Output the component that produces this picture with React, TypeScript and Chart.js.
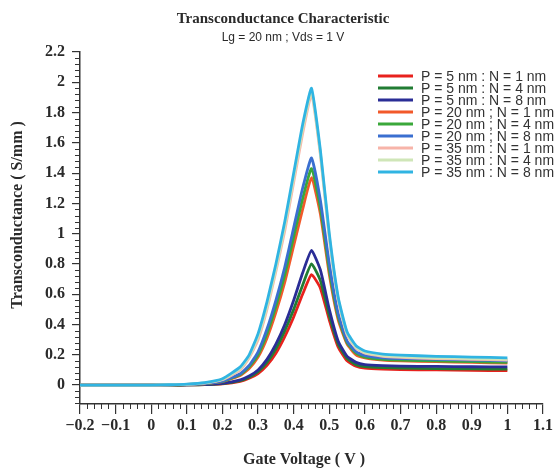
import React, { useEffect, useRef } from "react";
import { Chart, registerables } from "chart.js";

Chart.register(...registerables);

// Gate voltage sweep (V)
const GATE_VOLTAGE = [
  -0.2, -0.1, 0, 0.05, 0.1, 0.15, 0.2, 0.25, 0.275, 0.3, 0.325, 0.35, 0.375, 0.4,
  0.425, 0.45, 0.475, 0.5, 0.525, 0.55, 0.575, 0.6, 0.65, 0.7, 0.8, 0.9, 1.0,
];

// Transconductance (S/mm) for each P / N combination
const GM_P5_N1 = [0, 0, 0, 0, 0.001, 0.003, 0.008, 0.025, 0.045, 0.076, 0.13, 0.21, 0.32, 0.45, 0.6, 0.73, 0.64, 0.43, 0.25, 0.16, 0.125, 0.112, 0.105, 0.102, 0.1, 0.097, 0.095];
const GM_P5_N4 = [0, 0, 0, 0, 0.001, 0.003, 0.01, 0.03, 0.052, 0.088, 0.15, 0.24, 0.36, 0.5, 0.66, 0.8, 0.69, 0.46, 0.27, 0.175, 0.135, 0.122, 0.115, 0.112, 0.109, 0.107, 0.105];
const GM_P5_N8 = [0, 0, 0, 0, 0.001, 0.004, 0.012, 0.035, 0.06, 0.1, 0.17, 0.27, 0.4, 0.56, 0.74, 0.89, 0.76, 0.5, 0.29, 0.19, 0.15, 0.135, 0.128, 0.125, 0.123, 0.121, 0.12];
const GM_P20_N1 = [0, 0, 0, 0.001, 0.003, 0.008, 0.022, 0.064, 0.11, 0.185, 0.31, 0.48, 0.68, 0.92, 1.16, 1.37, 1.13, 0.73, 0.43, 0.27, 0.2, 0.18, 0.165, 0.16, 0.155, 0.15, 0.145];
const GM_P20_N4 = [0, 0, 0, 0.001, 0.003, 0.009, 0.024, 0.07, 0.12, 0.2, 0.34, 0.52, 0.73, 0.98, 1.23, 1.43, 1.17, 0.76, 0.45, 0.28, 0.21, 0.185, 0.17, 0.165, 0.16, 0.155, 0.15];
const GM_P20_N8 = [0, 0, 0, 0.001, 0.004, 0.01, 0.026, 0.075, 0.13, 0.22, 0.37, 0.56, 0.78, 1.04, 1.3, 1.5, 1.22, 0.8, 0.47, 0.29, 0.22, 0.195, 0.18, 0.175, 0.17, 0.165, 0.16];
const GM_P35_N1 = [0, 0, 0, 0.001, 0.005, 0.013, 0.035, 0.1, 0.18, 0.3, 0.5, 0.75, 1.02, 1.34, 1.66, 1.92, 1.52, 0.97, 0.56, 0.33, 0.245, 0.21, 0.19, 0.183, 0.175, 0.17, 0.165];
const GM_P35_N4 = [0, 0, 0, 0.002, 0.005, 0.014, 0.038, 0.11, 0.19, 0.32, 0.52, 0.77, 1.05, 1.37, 1.69, 1.94, 1.53, 0.98, 0.57, 0.34, 0.25, 0.215, 0.195, 0.188, 0.18, 0.175, 0.17];
const GM_P35_N8 = [0, 0, 0, 0.002, 0.006, 0.016, 0.042, 0.12, 0.2, 0.34, 0.55, 0.8, 1.08, 1.4, 1.72, 1.96, 1.55, 1.0, 0.58, 0.35, 0.26, 0.225, 0.205, 0.198, 0.19, 0.185, 0.18];

const SERIES_VALUES = [
  GM_P5_N1, GM_P5_N4, GM_P5_N8,
  GM_P20_N1, GM_P20_N4, GM_P20_N8,
  GM_P35_N1, GM_P35_N4, GM_P35_N8,
];

const SERIES_LABELS = [
  "P = 5 nm : N = 1 nm",
  "P = 5 nm : N = 4 nm",
  "P = 5 nm : N = 8 nm",
  "P = 20 nm ; N = 1 nm",
  "P = 20 nm ; N = 4 nm",
  "P = 20 nm ; N = 8 nm",
  "P = 35 nm : N = 1 nm",
  "P = 35 nm : N = 4 nm",
  "P = 35 nm : N = 8 nm",
];

const SERIES_COLORS = [
  "#e8211d",
  "#217c33",
  "#2a2d96",
  "#f2592a",
  "#3aa83a",
  "#3a6fd0",
  "#f7b4a9",
  "#cfe6b8",
  "#30b4e2",
];

const X_TICKS = [-0.2, -0.1, 0, 0.1, 0.2, 0.3, 0.4, 0.5, 0.6, 0.7, 0.8, 0.9, 1.0, 1.1];
const X_TICK_LABELS = ["\u22120.2", "\u22120.1", "0", "0.1", "0.2", "0.3", "0.4", "0.5", "0.6", "0.7", "0.8", "0.9", "1", "1.1"];
const Y_TICKS = [0, 0.2, 0.4, 0.6, 0.8, 1.0, 1.2, 1.4, 1.6, 1.8, 2.0, 2.2];
const Y_TICK_LABELS = ["0", "0.2", "0.4", "0.6", "0.8", "1", "1.2", "1.4", "1.6", "1.8", "2", "2.2"];

const TITLE = "Transconductance Characteristic";
const SUBTITLE = "Lg = 20 nm ; Vds = 1 V";
const X_TITLE = "Gate Voltage ( V )";
const Y_TITLE = "Transconductance ( S/mm )";

const SERIF = "'Liberation Serif', 'Times New Roman', serif";
const SANS = "'Liberation Sans', Arial, sans-serif";
const INK = "#2a2a2a";

const decorPlugin = {
  id: "decor",
  afterDraw(chart: any) {
    const ctx: CanvasRenderingContext2D = chart.ctx;
    const { left, bottom } = chart.chartArea;
    const xs = chart.scales.x;
    const ys = chart.scales.y;
    ctx.save();

    // minor ticks
    ctx.strokeStyle = "#333";
    ctx.lineWidth = 1;
    ctx.beginPath();
    for (let i = 0; i <= 65; i++) {
      if (i % 5 === 0) continue;
      const px = Math.round(xs.getPixelForValue(-0.2 + i * 0.02)) + 0.5;
      ctx.moveTo(px, bottom);
      ctx.lineTo(px, bottom + 5);
    }
    for (let i = -3; i <= 55; i++) {
      if (i % 5 === 0) continue;
      const py = Math.round(ys.getPixelForValue(i * 0.04)) + 0.5;
      if (py > bottom) continue;
      ctx.moveTo(left - 5, py);
      ctx.lineTo(left, py);
    }
    ctx.stroke();

    // titles
    ctx.fillStyle = INK;
    ctx.textAlign = "center";
    ctx.textBaseline = "middle";
    ctx.font = `bold 15px ${SERIF}`;
    ctx.fillText(TITLE, 283, 19);
    ctx.font = `12px ${SANS}`;
    ctx.fillText(SUBTITLE, 283, 38);
    ctx.font = `bold 16px ${SERIF}`;
    ctx.fillText(X_TITLE, 304, 460);
    ctx.save();
    ctx.translate(18, 215);
    ctx.rotate(-Math.PI / 2);
    ctx.fillText(Y_TITLE, 0, 0);
    ctx.restore();

    // legend
    ctx.textAlign = "left";
    ctx.font = `14px ${SANS}`;
    SERIES_LABELS.forEach((label, i) => {
      const yy = 76 + i * 12;
      ctx.strokeStyle = SERIES_COLORS[i];
      ctx.lineWidth = 3;
      ctx.beginPath();
      ctx.moveTo(378, yy);
      ctx.lineTo(413, yy);
      ctx.stroke();
      ctx.fillStyle = "#333";
      ctx.fillText(label, 421, yy + 1);
    });
    ctx.restore();
  },
};

export default function App() {
  const canvasRef = useRef<HTMLCanvasElement | null>(null);

  useEffect(() => {
    const canvas = canvasRef.current;
    if (!canvas) return;
    const datasets = SERIES_VALUES.map((vals, i) => ({
      label: SERIES_LABELS[i],
      data: GATE_VOLTAGE.map((v, k) => ({ x: v, y: vals[k] })),
      borderColor: SERIES_COLORS[i],
      backgroundColor: SERIES_COLORS[i],
      borderWidth: 2.8,
      pointRadius: 0,
      tension: 0.15,
      fill: false,
      order: SERIES_VALUES.length - 1 - i,
    }));

    const tickFont = { family: SERIF, weight: "bold" as const, size: 16 };

    const chart = new Chart(canvas, {
      type: "line",
      data: { datasets },
      plugins: [decorPlugin],
      options: {
        animation: false,
        responsive: false,
        devicePixelRatio: 1,
        layout: { padding: { top: 52, left: 0, right: 16, bottom: 0 } },
        plugins: { legend: { display: false }, tooltip: { enabled: false }, title: { display: false } },
        scales: {
          x: {
            type: "linear",
            min: -0.2,
            max: 1.1,
            afterFit: (s: any) => { s.height = 67; },
            afterBuildTicks: (s: any) => { s.ticks = X_TICKS.map((value) => ({ value })); },
            grid: { drawOnChartArea: false, drawTicks: true, tickLength: 10, color: "#333", lineWidth: 1.2 },
            border: { display: true, color: "#333", width: 1.5 },
            ticks: {
              autoSkip: false,
              maxRotation: 0,
              padding: 2,
              color: INK,
              font: tickFont,
              callback: (_v: any, idx: number) => X_TICK_LABELS[idx],
            },
          },
          y: {
            type: "linear",
            min: -0.125,
            max: 2.2,
            afterFit: (s: any) => { s.width = 80; },
            afterBuildTicks: (s: any) => { s.ticks = Y_TICKS.map((value) => ({ value })); },
            grid: { drawOnChartArea: false, drawTicks: true, tickLength: 8, color: "#333", lineWidth: 1.2 },
            border: { display: true, color: "#333", width: 1.5 },
            ticks: {
              padding: 7,
              color: INK,
              font: tickFont,
              callback: (_v: any, idx: number) => Y_TICK_LABELS[idx],
            },
          },
        },
      },
    });
    return () => chart.destroy();
  }, []);

  return (
    <div style={{ position: "fixed", left: 0, top: 0, width: 559, height: 471, background: "#fff" }}>
      <canvas ref={canvasRef} width={559} height={471} style={{ width: 559, height: 471, display: "block" }} />
    </div>
  );
}
